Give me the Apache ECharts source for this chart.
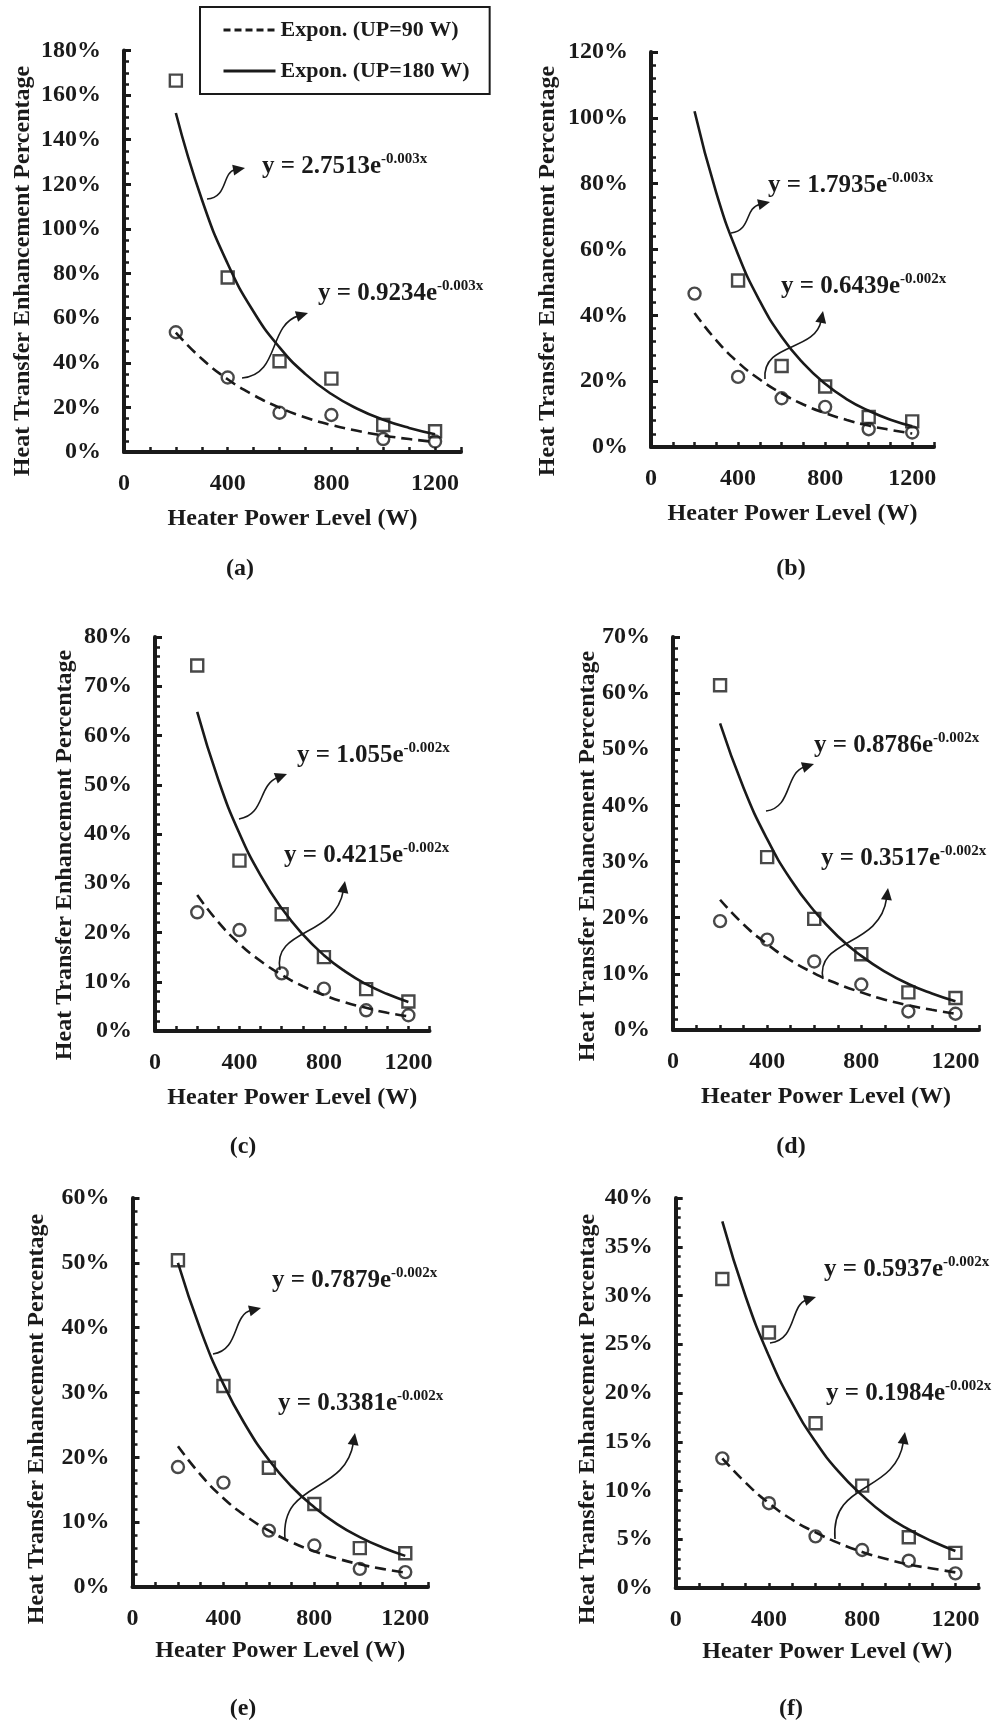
<!DOCTYPE html>
<html>
<head>
<meta charset="utf-8">
<script src="https://cdn.jsdelivr.net/npm/echarts@6/dist/echarts.min.js"></script>
<style>
html, body { margin: 0; padding: 0; background: #fff; }
#chart { width: 996px; height: 1720px; }
</style>
</head>
<body>
<div id="chart"></div>
<script>
// measured points (heat transfer enhancement, %)
var powerLevels = [200, 400, 600, 800, 1000, 1200];
var fitPower = [200, 300, 400, 500, 600, 700, 800, 900, 1000, 1100, 1200];
var xTickLabels = [0, 400, 800, 1200];

var up180A = [166.5, 78.2, 40.7, 32.9, 12.1, 9.3];
var up90A = [53.7, 33.4, 17.6, 16.6, 5.8, 4.7];
var fit180A = [152, 113.3, 84.4, 62.9, 46.9, 34.9, 26.0, 19.4, 14.5, 10.8, 8.0];
var fit90A = [53.5, 41.8, 32.6, 25.5, 19.9, 15.5, 12.1, 9.5, 7.4, 5.8, 4.5];

var up180B = [null, 50.6, 24.6, 18.4, 9.1, 7.8];
var up90B = [46.6, 21.3, 14.8, 12.2, 5.4, 4.4];
var fit180B = [102, 77.2, 58.5, 44.3, 33.5, 25.4, 19.2, 14.5, 11.0, 8.3, 6.3];
var fit90B = [40.7, 32.4, 25.7, 20.5, 16.3, 12.9, 10.3, 8.2, 6.5, 5.2, 4.1];

var up180C = [74.2, 34.6, 23.7, 15.0, 8.5, 6.0];
var up90C = [24.1, 20.5, 11.7, 8.6, 4.2, 3.2];
var fit180C = [64.8, 51.0, 40.1, 31.6, 24.9, 19.6, 15.4, 12.1, 9.5, 7.5, 5.9];
var fit90C = [27.6, 22.1, 17.7, 14.2, 11.4, 9.1, 7.3, 5.8, 4.7, 3.7, 3.0];

var up180D = [61.4, 30.8, 19.8, 13.5, 6.7, 5.7];
var up90D = [19.4, 16.1, 12.2, 8.1, 3.3, 2.9];
var fit180D = [54.6, 43.1, 34.0, 26.8, 21.2, 16.7, 13.2, 10.4, 8.2, 6.5, 5.1];
var fit90D = [23.2, 18.8, 15.3, 12.4, 10.1, 8.2, 6.7, 5.4, 4.4, 3.6, 2.9];

var up180E = [50.4, 31.0, 18.4, 12.8, 6.0, 5.2];
var up90E = [18.5, 16.1, 8.7, 6.4, 2.8, 2.3];
var fit180E = [50.0, 39.6, 31.3, 24.8, 19.6, 15.5, 12.3, 9.7, 7.7, 6.1, 4.8];
var fit90E = [21.7, 17.3, 13.7, 10.9, 8.7, 6.9, 5.5, 4.4, 3.5, 2.8, 2.2];

var up180F = [31.7, 26.2, 16.9, 10.5, 5.2, 3.6];
var up90F = [13.3, 8.7, 5.3, 3.9, 2.8, 1.5];
var fit180F = [37.6, 29.9, 23.8, 18.9, 15.0, 11.9, 9.5, 7.5, 6.0, 4.8, 3.8];
var fit90F = [13.3, 10.8, 8.7, 7.0, 5.7, 4.6, 3.7, 3.0, 2.4, 2.0, 1.6];

var yMax = [180, 120, 80, 70, 60, 40];
var yStep = [20, 20, 10, 10, 10, 5];
var yMinorSplit = [4, 5, 5, 5, 5, 5];
var panelNames = ['(a)', '(b)', '(c)', '(d)', '(e)', '(f)'];
var eq180 = [['2.7513', '-0.003x'], ['1.7935', '-0.003x'], ['1.055', '-0.002x'],
             ['0.8786', '-0.002x'], ['0.7879', '-0.002x'], ['0.5937', '-0.002x']];
var eq90 = [['0.9234', '-0.003x'], ['0.6439', '-0.002x'], ['0.4215', '-0.002x'],
            ['0.3517', '-0.002x'], ['0.3381', '-0.002x'], ['0.1984', '-0.002x']];

var points180 = [up180A, up180B, up180C, up180D, up180E, up180F];
var points90 = [up90A, up90B, up90C, up90D, up90E, up90F];
var fits180 = [fit180A, fit180B, fit180C, fit180D, fit180E, fit180F];
var fits90 = [fit90A, fit90B, fit90C, fit90D, fit90E, fit90F];

var NAME_90 = 'Expon. (UP=90 W)';
var NAME_180 = 'Expon. (UP=180 W)';

// layout (pixels)
var grids = [
  { left: 124, top: 50.5, width: 337, height: 401.5 },
  { left: 651, top: 52, width: 283, height: 395 },
  { left: 155, top: 637, width: 274.5, height: 394 },
  { left: 673, top: 637, width: 306, height: 393 },
  { left: 132.5, top: 1198, width: 295.5, height: 389 },
  { left: 675.7, top: 1198, width: 303, height: 390 }
];
var xNameGap = [55, 55, 55, 55, 52, 52];
var yTitlePos = [[23, 271], [548, 271], [65, 855], [588, 856], [37, 1419], [588, 1419]];
var captionPos = [[240, 569], [791, 569], [243, 1147], [791, 1147], [243, 1709], [791, 1709]];
var eqPos180 = [[262, 167], [768, 186], [297, 756], [814, 746], [272, 1281], [824, 1270]];
var eqPos90 = [[318, 294], [781, 287], [284, 856], [821, 859], [278, 1404], [826, 1394]];
// arrows: start, control 1, control 2, tip
var arrows180 = [
  [207, 199, 228, 198, 222, 172, 245, 168],
  [731, 233, 752, 230, 744, 208, 770, 202],
  [239, 819, 265, 815, 258, 785, 287, 774],
  [766, 811, 792, 808, 785, 773, 814, 764],
  [213, 1354, 240, 1350, 232, 1315, 261, 1308],
  [770, 1343, 797, 1340, 790, 1305, 816, 1297]
];
var arrows90 = [
  [242, 378, 280, 375, 268, 325, 308, 313],
  [765, 379, 762, 342, 815, 352, 823, 311],
  [280, 970, 272, 928, 335, 938, 345, 881],
  [823, 979, 815, 938, 880, 948, 888, 888],
  [285, 1539, 280, 1480, 345, 1495, 355, 1433],
  [835, 1539, 830, 1480, 895, 1495, 905, 1432]
];

var FONT = '"Liberation Serif", "Times New Roman", serif';
var INK = '#1a1a1a';

function pairs(xs, ys) {
  var out = [];
  for (var i = 0; i < xs.length; i++) {
    if (ys[i] != null) out.push([xs[i], ys[i]]);
  }
  return out;
}

function arrow(a) {
  var dx = a[6] - a[4], dy = a[7] - a[5];
  var len = Math.sqrt(dx * dx + dy * dy);
  dx /= len; dy /= len;
  var L = 12, w = 5.5;
  var bx = a[6] - dx * L, by = a[7] - dy * L;
  return [
    { type: 'bezierCurve', silent: true,
      shape: { x1: a[0], y1: a[1], cpx1: a[2], cpy1: a[3], cpx2: a[4], cpy2: a[5], x2: bx + dx * 2, y2: by + dy * 2 },
      style: { stroke: INK, lineWidth: 1.6, fill: null } },
    { type: 'polygon', silent: true,
      shape: { points: [[a[6], a[7]], [bx - dy * w, by + dx * w], [bx + dy * w, by - dx * w]] },
      style: { fill: INK } }
  ];
}

function equation(pos, eq) {
  return {
    type: 'text', x: pos[0], y: pos[1], silent: true,
    style: {
      text: '{m|y = ' + eq[0] + 'e}{s|' + eq[1] + '}',
      textVerticalAlign: 'middle', textAlign: 'left',
      rich: {
        m: { fontFamily: FONT, fontWeight: 'bold', fontSize: 25, lineHeight: 30, fill: INK, color: INK },
        s: { fontFamily: FONT, fontWeight: 'bold', fontSize: 15, lineHeight: 20, verticalAlign: 'top', fill: INK, color: INK }
      }
    }
  };
}

var option = {
  backgroundColor: '#ffffff',
  animation: false,
  color: [INK],
  legend: {
    orient: 'vertical', left: 200, top: 7,
    padding: [12, 20, 12, 22], itemGap: 19, itemWidth: 52, itemHeight: 12,
    borderColor: INK, borderWidth: 2,
    itemStyle: { opacity: 0 },
    textStyle: { fontFamily: FONT, fontWeight: 'bold', fontSize: 22, color: INK },
    data: [
      { name: NAME_90, lineStyle: { type: [7, 4], width: 3 } },
      { name: NAME_180, lineStyle: { width: 3 } }
    ]
  },
  grid: [], xAxis: [], yAxis: [], series: [], graphic: []
};

for (var p = 0; p < 6; p++) {
  option.grid.push(grids[p]);
  option.xAxis.push({
    type: 'value', gridIndex: p, min: 0, max: 1300, interval: 100,
    name: 'Heater Power Level (W)', nameLocation: 'middle', nameGap: xNameGap[p],
    nameTextStyle: { fontFamily: FONT, fontWeight: 'bold', fontSize: 24, color: INK },
    axisLine: { show: true, lineStyle: { color: INK, width: 4 } },
    axisTick: { show: true, inside: true, length: 5, lineStyle: { color: INK, width: 2.5 } },
    axisLabel: {
      margin: 20, fontFamily: FONT, fontWeight: 'bold', fontSize: 24, color: INK,
      formatter: function (v) { return xTickLabels.indexOf(v) >= 0 ? String(v) : ''; }
    },
    splitLine: { show: false }
  });
  option.yAxis.push({
    type: 'value', gridIndex: p, min: 0, max: yMax[p], interval: yStep[p],
    axisLine: { show: true, lineStyle: { color: INK, width: 4 } },
    axisTick: { show: true, inside: true, length: 7, lineStyle: { color: INK, width: 3 } },
    minorTick: { show: true, splitNumber: yMinorSplit[p], length: 5, lineStyle: { color: INK, width: 2.5 } },
    axisLabel: {
      margin: 23, fontFamily: FONT, fontWeight: 'bold', fontSize: 24, color: INK,
      formatter: function (v) { return v + '%'; }
    },
    splitLine: { show: false }
  });

  option.series.push({
    name: NAME_180, type: 'line', xAxisIndex: p, yAxisIndex: p,
    data: pairs(fitPower, fits180[p]), smooth: true, symbol: 'none',
    itemStyle: { color: INK },
    lineStyle: { color: INK, width: 2.6, type: 'solid' }, z: 3
  });
  option.series.push({
    name: NAME_90, type: 'line', xAxisIndex: p, yAxisIndex: p,
    data: pairs(fitPower, fits90[p]), smooth: true, symbol: 'none',
    itemStyle: { color: INK },
    lineStyle: { color: INK, width: 2.6, type: [11, 6] }, z: 3
  });
  option.series.push({
    name: 'UP=180 W', type: 'scatter', xAxisIndex: p, yAxisIndex: p,
    data: pairs(powerLevels, points180[p]), symbol: 'rect', symbolSize: 12,
    itemStyle: { color: 'rgba(255,255,255,0)', borderColor: INK, borderWidth: 2.4 }, z: 4
  });
  option.series.push({
    name: 'UP=90 W', type: 'scatter', xAxisIndex: p, yAxisIndex: p,
    data: pairs(powerLevels, points90[p]), symbol: 'circle', symbolSize: 12,
    itemStyle: { color: 'rgba(255,255,255,0)', borderColor: INK, borderWidth: 2.4 }, z: 4
  });

  option.graphic.push({
    type: 'text', x: yTitlePos[p][0], y: yTitlePos[p][1], rotation: Math.PI / 2, silent: true,
    style: { text: 'Heat Transfer Enhancement Percentage', textAlign: 'center', textVerticalAlign: 'middle',
             font: 'bold 24px ' + FONT, fill: INK }
  });
  option.graphic.push({
    type: 'text', x: captionPos[p][0], y: captionPos[p][1], silent: true,
    style: { text: panelNames[p], textAlign: 'center', textVerticalAlign: 'middle',
             font: 'bold 24px ' + FONT, fill: INK }
  });
  option.graphic.push(equation(eqPos180[p], eq180[p]));
  option.graphic.push(equation(eqPos90[p], eq90[p]));
  option.graphic = option.graphic.concat(arrow(arrows180[p]), arrow(arrows90[p]));
}

var chart = echarts.init(document.getElementById('chart'), null, { renderer: 'canvas' });
chart.setOption(option);
</script>
</body>
</html>
